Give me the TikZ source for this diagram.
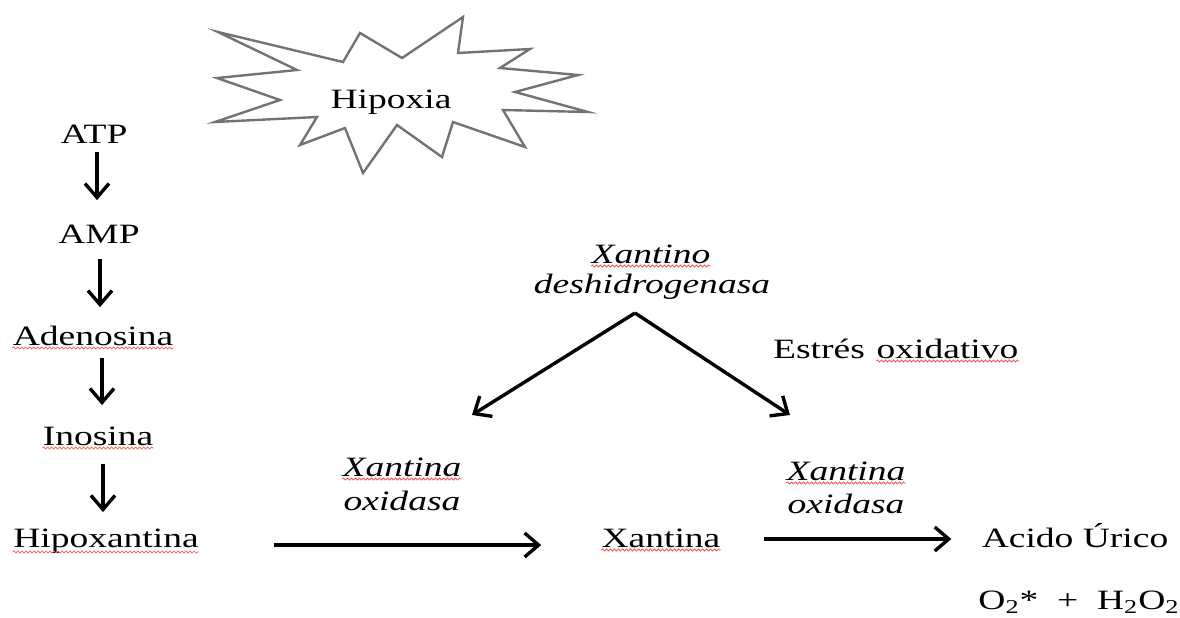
\documentclass[tikz,border=0pt]{standalone}
\usepackage{fontspec}
\setmainfont{Liberation Serif}[FakeStretch=1.34]
\usetikzlibrary{arrows.meta,decorations.pathmorphing}
\tikzset{pin/.style={line width=1.7pt, -{Straight Barb[length=7pt, width=12pt]}},
  txt/.style={inner sep=0pt, anchor=base},
  enz/.style={txt, font=\fontsize{14pt}{17pt}\selectfont\itshape},
  wavy/.style={draw=red!65, line width=0.4pt, decorate,
    decoration={snake, amplitude=0.5pt, segment length=2pt}}}

\begin{document}
\begin{tikzpicture}[x=0.5pt, y=-0.5pt, font=\fontsize{14pt}{17pt}\selectfont]
  \useasboundingbox (0,0) rectangle (1180,617);
  % hipoxia burst
  \draw[line width=1.2pt, draw=black!55, line join=miter]
    (218,32) -- (343,62) -- (360,33) -- (402,58) -- (463,17) -- (458,53) -- (530,49)
    -- (500,68) -- (578,75) -- (515,92) -- (588,112) -- (503,110) -- (525,147)
    -- (453,122) -- (442,157) -- (397,125) -- (363,173) -- (345,128) -- (300,145)
    -- (317,117) -- (215,122) -- (280,100) -- (217,78) -- (297,70) -- cycle;
  \node[txt] (hipoxia) at (391,108) {Hipoxia};
  % left column
  \node[txt] (atp) at (94,143) {ATP};
  \node[txt] (amp) at (99,243) {AMP};
  \node[txt] (adeno) at (93,345) {Adenosina};
  \node[txt] (ino) at (98,445) {Inosina};
  \node[txt] (hipox) at (106,547) {Hipoxantina};
  \draw[pin] ([xshift=1.5pt, yshift=-4.5pt]atp.south) -- ([xshift=1.5pt, yshift=12pt]atp.south |- amp.north);
  \draw[pin] ([xshift=0.5pt, yshift=-8pt]amp.south) -- ([xshift=0.5pt, yshift=9pt]amp.south |- adeno.north);
  \draw[pin] ([xshift=4.5pt, yshift=-6pt]adeno.south) -- ([xshift=4.5pt, yshift=10.5pt]adeno.south |- ino.north);
  \draw[pin] ([xshift=2.5pt, yshift=-9pt]ino.south) -- ([xshift=2.5pt, yshift=8pt]ino.south |- hipox.north);
  % xantino deshidrogenasa
  \node[enz] (xdha) at (651,263) {Xantino};
  \node[enz] (xdhb) at (652,293) {deshidrogenasa};
  \coordinate (apex) at (635,313);
  \coordinate (tipl) at (472,415);
  \coordinate (tipr) at (790,415);
  \draw[pin, line join=miter] (apex) -- (tipl);
  \draw[pin, line join=miter] (apex) -- (tipr);
  \node[txt] (estres) at (819,358) {Estrés};
  \node[txt, anchor=base west] (oxid) at ([xshift=5.5pt]estres.base east) {oxidativo};
  % bottom row
  \node[enz] (xoa) at (402,476) {Xantina};
  \node[enz] (xob) at (402,510) {oxidasa};
  \node[txt] (xan) at (661,547) {Xantina};
  \node[enz] (xoc) at (846,480) {Xantina};
  \node[enz] (xod) at (846,513) {oxidasa};
  \node[txt] (urico) at (1075,547) {Acido Úrico};
  \node[txt] (prod) at (1079,609) {O\textsubscript{2}*~~+~~H\textsubscript{2}O\textsubscript{2}};
  \draw[pin] ([xshift=37.5pt, yshift=1pt]hipox.base east) -- ([xshift=-30pt, yshift=1pt]xan.base west);
  \draw[pin] ([xshift=21.5pt, yshift=4pt]xan.base east) -- ([xshift=-15pt, yshift=4pt]urico.base west);
  % spell marks
  \draw[wavy] ([yshift=-1.5pt]adeno.base west) -- ([yshift=-1.5pt]adeno.base east);
  \draw[wavy] ([yshift=-1.5pt]ino.base west) -- ([yshift=-1.5pt]ino.base east);
  \draw[wavy] ([yshift=-2.5pt]hipox.base west) -- ([yshift=-2.5pt]hipox.base east);
  \draw[wavy] ([yshift=-1.5pt]xdha.base west) -- ([yshift=-1.5pt]xdha.base east);
  \draw[wavy] ([yshift=-1.5pt]oxid.base west) -- ([yshift=-1.5pt]oxid.base east);
  \draw[wavy] ([yshift=-1.5pt]xoa.base west) -- ([yshift=-1.5pt]xoa.base east);
  \draw[wavy] ([yshift=-1.5pt]xan.base west) -- ([yshift=-1.5pt]xan.base east);
  \draw[wavy] ([yshift=-1.5pt]xoc.base west) -- ([yshift=-1.5pt]xoc.base east);
\end{tikzpicture}
\end{document}
